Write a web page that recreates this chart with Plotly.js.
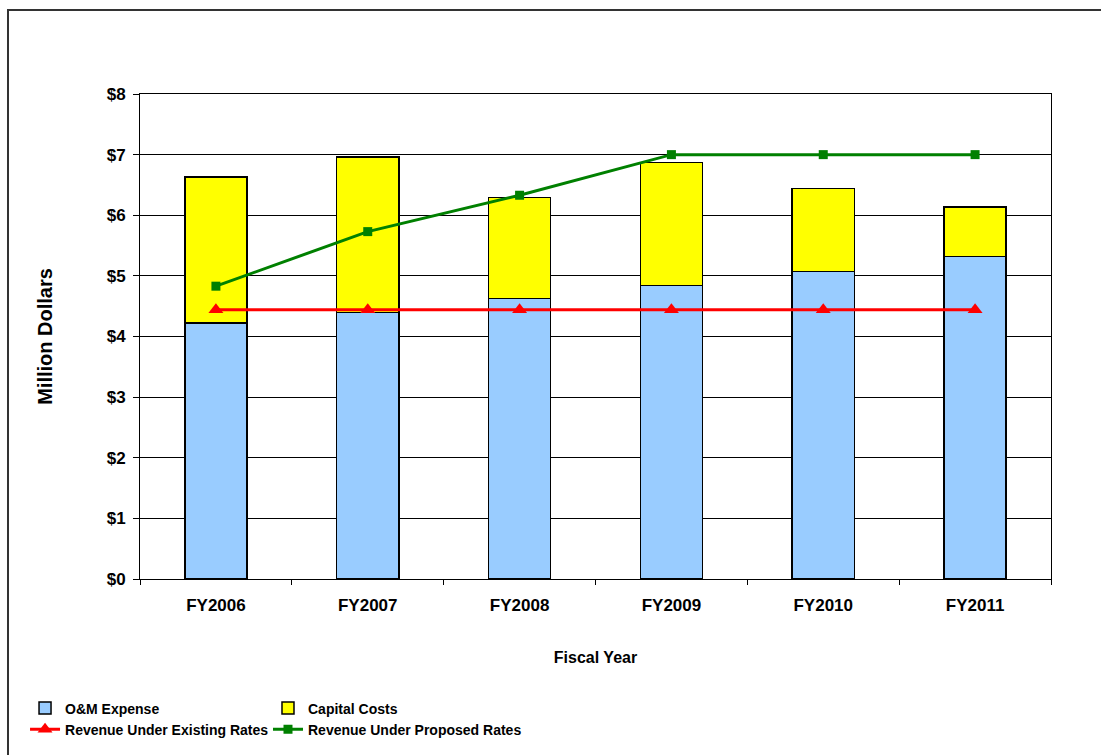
<!DOCTYPE html>
<html>
<head>
<meta charset="utf-8">
<script src="https://cdn.plot.ly/plotly-3.0.1.min.js"></script>
<style>
  html, body { margin: 0; padding: 0; background: #fff; }
  #chart { width: 1101px; height: 755px; }
</style>
</head>
<body>
<div id="chart"></div>
<script>
const categories = ["FY2006", "FY2007", "FY2008", "FY2009", "FY2010", "FY2011"];
const omExpense = [4.22, 4.40, 4.63, 4.84, 5.07, 5.32];
const capitalCosts = [2.41, 2.56, 1.66, 2.03, 1.37, 0.82];
const revenueExisting = [4.44, 4.44, 4.44, 4.44, 4.44, 4.44];
const revenueProposed = [4.83, 5.73, 6.33, 7.00, 7.00, 7.00];
const yTickValues = [0, 1, 2, 3, 4, 5, 6, 7, 8];
const yTickLabels = ["$0", "$1", "$2", "$3", "$4", "$5", "$6", "$7", "$8"];

const FONT = "Liberation Sans, Arial, sans-serif";

const traces = [
  {
    type: "bar", name: "O&M Expense", x: categories, y: omExpense,
    marker: { color: "#99CCFF", line: { color: "#000000", width: 1.5 } },
    legend: "legend"
  },
  {
    type: "bar", name: "Capital Costs", x: categories, y: capitalCosts,
    marker: { color: "#FFFF00", line: { color: "#000000", width: 1.5 } },
    legend: "legend2"
  },
  {
    type: "scatter", mode: "lines+markers", name: "Revenue Under Existing Rates",
    x: categories, y: revenueExisting,
    line: { color: "#FF0000", width: 3 },
    marker: { symbol: "triangle-up", size: 13, color: "#FF0000" },
    legend: "legend"
  },
  {
    type: "scatter", mode: "lines+markers", name: "Revenue Under Proposed Rates",
    x: categories, y: revenueProposed,
    line: { color: "#008000", width: 3 },
    marker: { symbol: "square", size: 9, color: "#008000" },
    legend: "legend2"
  }
];

const legendCommon = {
  orientation: "v", xanchor: "left", yanchor: "top",
  traceorder: "normal", itemwidth: 30, tracegroupgap: 0,
  bgcolor: "rgba(0,0,0,0)",
  font: { family: FONT, size: 14, color: "#000", weight: "bold" }
};

const layout = {
  width: 1101, height: 755,
  margin: { l: 140, r: 50, t: 94, b: 176, autoexpand: false },
  paper_bgcolor: "#ffffff", plot_bgcolor: "#ffffff",
  barmode: "stack", bargap: 0.59,
  font: { family: FONT, color: "#000" },
  xaxis: {
    type: "category",
    showline: true, linecolor: "#000", linewidth: 1, mirror: true,
    ticks: "outside", tickson: "boundaries", ticklen: 5, tickcolor: "#000",
    showgrid: false, zeroline: false,
    ticklabelstandoff: 11,
    tickfont: { family: FONT, size: 17, color: "#000", weight: "bold" },
    title: { text: "<b>Fiscal Year</b>", font: { family: FONT, size: 16, color: "#000" }, standoff: 37 }
  },
  yaxis: {
    range: [0, 8], tickmode: "array", tickvals: yTickValues, ticktext: yTickLabels,
    showline: true, linecolor: "#000", linewidth: 1, mirror: true,
    ticks: "outside", ticklen: 6, tickcolor: "#000",
    showgrid: true, gridcolor: "#000", gridwidth: 1, zeroline: false,
    ticklabelstandoff: 4,
    tickfont: { family: FONT, size: 17, color: "#000", weight: "bold" },
    title: { text: "<b>Million Dollars</b>", font: { family: FONT, size: 20, color: "#000" }, standoff: 48 }
  },
  legend: Object.assign({}, legendCommon, { x: -0.1262, y: -0.234 }),
  legend2: Object.assign({}, legendCommon, { x: 0.1405, y: -0.234 }),
  shapes: [
    {
      type: "rect", xref: "paper", yref: "paper",
      x0: -0.1449, x1: 1.2, y0: -0.6, y1: 1.1732,
      line: { color: "#333333", width: 2 }, fillcolor: "rgba(0,0,0,0)", layer: "below"
    }
  ]
};

Plotly.newPlot("chart", traces, layout, { displayModeBar: false, staticPlot: true });
</script>
</body>
</html>
